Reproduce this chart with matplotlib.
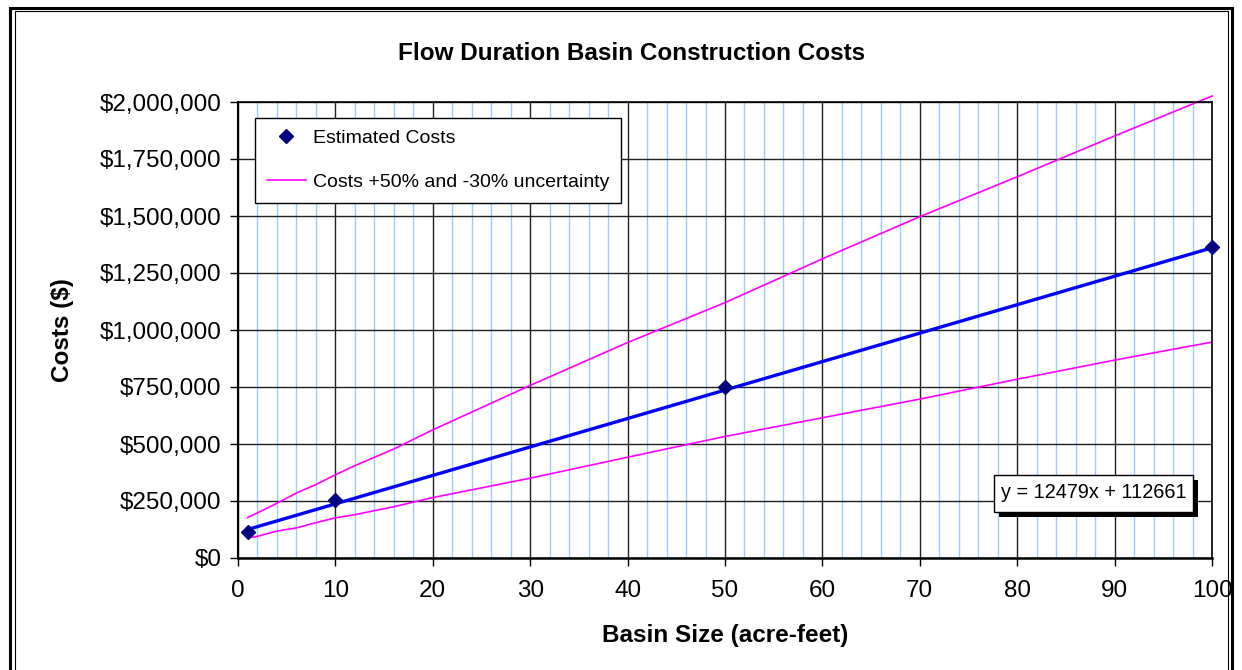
import numpy as np
import matplotlib.pyplot as plt
from matplotlib.ticker import MultipleLocator, FuncFormatter
from matplotlib.patches import Rectangle

plt.rcParams['font.family'] = ['Liberation Sans', 'DejaVu Sans']

# estimated costs (points)
size = [1, 10, 50, 100]
cost = [114000, 254000, 750000, 1362000]

# linear trendline shown on chart
slope = 12479
intercept = 112661
trend_x = np.array([1, 100])

# +50% / -30% uncertainty bands
band_x = [1, 2, 4, 6, 8, 10, 12, 16, 20, 30, 40, 50, 60, 70, 80, 90, 100]
upper = [178000, 198000, 240000, 285000, 322000, 365000, 405000, 478000, 562000,
         757000, 945000, 1120000, 1312000, 1497000, 1672000, 1851000, 2026000]
lower = [88000, 95000, 118000, 132000, 155000, 176000, 190000, 225000, 265000,
         350000, 442000, 533000, 615000, 697000, 784000, 868000, 947000]

fig = plt.figure(figsize=(12.42, 6.7), dpi=100)
ax = fig.add_axes([238/1242, 1-558/670, (1212-238)/1242, (558-102)/670])

# grid
ax.xaxis.set_major_locator(MultipleLocator(10))
ax.xaxis.set_minor_locator(MultipleLocator(2))
ax.yaxis.set_major_locator(MultipleLocator(250000))
ax.grid(which='minor', axis='x', color='#99ccff', lw=1.0, zorder=0)
ax.grid(which='major', axis='both', color='#202020', lw=1.0, zorder=0.5)
ax.set_axisbelow(True)

ax.plot(trend_x, slope*trend_x + intercept, color='#0000ff', lw=2.4, zorder=3)
h_band, = ax.plot(band_x, upper, color='#ff00ff', lw=1.2, zorder=2, clip_on=False,
                  label='Costs +50% and -30% uncertainty')
ax.plot(band_x, lower, color='#ff00ff', lw=1.2, zorder=2)
h_pts, = ax.plot(size, cost, ls='none', marker='D', ms=7.5, color='#000080', zorder=4,
                 label='Estimated Costs', clip_on=False)

ax.set_xlim(0, 100)
ax.set_ylim(0, 2000000)
ax.yaxis.set_major_formatter(FuncFormatter(lambda v, p: '${:,.0f}'.format(v)))
ax.tick_params(which='major', direction='out', length=6, width=1, labelsize=17.5,
               color='black', pad=6)
ax.tick_params(which='minor', length=0)
ax.tick_params(axis='x', pad=10)
for s in ax.spines.values():
    s.set_color('black')
    s.set_linewidth(1.2)
ax.spines['left'].set_linewidth(1.5)
ax.spines['bottom'].set_linewidth(1.8)

ax.set_xlabel('Basin Size (acre-feet)', fontsize=17.5, fontweight='bold', labelpad=16)
ax.set_ylabel('Costs ($)', fontsize=17.5, fontweight='bold', labelpad=18)
fig.text(632/1242, 1-54/670, 'Flow Duration Basin Construction Costs',
         fontsize=17.5, fontweight='bold', ha='center', va='center')

leg = ax.legend(handles=[h_pts, h_band], loc='upper left',
                bbox_to_anchor=(17/974, 1-16/456), fontsize=14,
                frameon=True, fancybox=False, edgecolor='black', framealpha=1,
                borderpad=0.6, labelspacing=1.35, handlelength=2.0, handletextpad=0.4,
                borderaxespad=0)
leg.get_frame().set_linewidth(1.0)
leg.set_zorder(7)

# equation box with shadow (pixel positions converted to axes fractions)
def px(x, y):
    return ((x - 238) / 974, (558 - y) / 456)

ax.add_patch(Rectangle(px(999, 517), 199/974, 37/456, transform=ax.transAxes,
                       fc='black', ec='none', zorder=5))
ax.add_patch(Rectangle(px(994, 512), 199/974, 37/456, transform=ax.transAxes,
                       fc='white', ec='black', lw=1.0, zorder=6))
ax.text(*px(1093.5, 493), 'y = 12479x + 112661', transform=ax.transAxes,
        fontsize=14.3, ha='center', va='center', zorder=7)

# chart border (double line)
fig.patches.append(Rectangle((10/1242, -0.05), 1222/1242, 1.05-8/670, transform=fig.transFigure,
                             fill=False, ec='black', lw=2.2))
fig.patches.append(Rectangle((14.5/1242, -0.05), 1213/1242, 1.05-11/670, transform=fig.transFigure,
                             fill=False, ec='black', lw=0.8))

plt.savefig('out.png', dpi=100)
